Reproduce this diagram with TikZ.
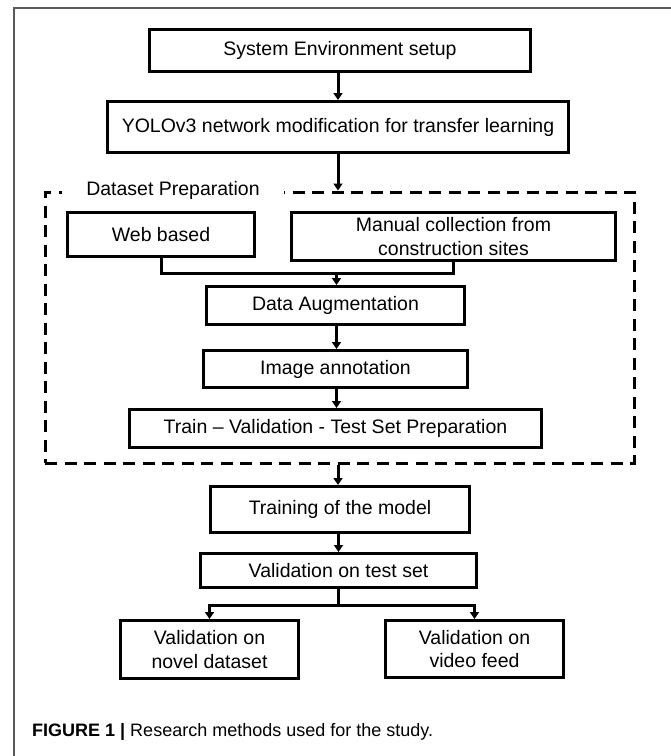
\documentclass[tikz,border=0pt]{standalone}
\usepackage{fontspec}
\setmainfont{Liberation Sans}
\usetikzlibrary{arrows.meta}
\begin{document}
\begin{tikzpicture}[x=1pt,y=-1pt,
  stepbox/.style={draw=black, line width=3pt, fill=white, inner sep=0pt, align=center,
    font=\fontsize{19.5}{23.4}\selectfont},
  dashbox/.style={draw=black, line width=3pt, dash pattern=on 12pt off 7.5pt, inner sep=0pt},
  conn/.style={draw=black, line width=3pt},
  arr/.style={conn, -{Triangle[length=7pt,width=9pt]}},
  frameline/.style={draw=black!65, line width=1.2pt}
]
\useasboundingbox (0,0) rectangle (671,756);
% outer frame (left and top only)
\draw[frameline] (14,756) -- (14,8) -- (671,8);

% dashed group
\node[dashbox, minimum width=589pt, minimum height=271pt] (dp) at (339.5,327.5) {};
\node[fill=white, inner xsep=24pt, inner ysep=2pt, font=\fontsize{19.5}{23.4}\selectfont] (dplabel) at (173,190) {Dataset Preparation};

% boxes
\node[stepbox, minimum width=381pt, minimum height=42pt] (sys) at (340,50.5) {System Environment setup};
\node[stepbox, minimum width=461pt, minimum height=51pt] (yolo) at (338,127) {YOLOv3 network modification for transfer learning};
\node[stepbox, minimum width=187pt, minimum height=44pt] (web) at (161,234.5) {Web based};
\node[stepbox, minimum width=324pt, minimum height=48pt] (man) at (453.5,236.5) {Manual collection from\\construction sites};
\node[stepbox, minimum width=258pt, minimum height=38pt] (aug) at (335.5,305.5) {Data Augmentation};
\node[stepbox, minimum width=264pt, minimum height=37pt] (ann) at (335.5,369) {Image annotation};
\node[stepbox, minimum width=412pt, minimum height=38pt] (tvt) at (335.5,428.5) {Train -- Validation - Test Set Preparation};
\node[stepbox, minimum width=259pt, minimum height=46pt] (train) at (340,509.5) {Training of the model};
\node[stepbox, minimum width=276pt, minimum height=34pt] (vts) at (338.5,570.5) {Validation on test set};
\node[stepbox, minimum width=178pt, minimum height=58pt] (nov) at (209.5,649.5) {Validation on\\novel dataset};
\node[stepbox, minimum width=178pt, minimum height=57pt] (vid) at (474.5,649) {Validation on\\video feed};

% connectors
\draw[arr] (sys.south -| 338,0) -- (yolo.north -| 338,0);
\draw[arr] (yolo.south -| 338,0) -- (dp.north -| 338,0);
\coordinate (join) at (336.5,273);
\draw[conn] (web.south) |- (join) -| (man.south);
\draw[arr] (join) -- (join |- aug.north);
\draw[arr] (aug.south -| 336.5,0) -- (ann.north -| 336.5,0);
\draw[arr] (ann.south -| 336.5,0) -- (tvt.north -| 336.5,0);
\draw[arr] (dp.south -| 338,0) -- (train.north -| 338,0);
\draw[arr] (train.south -| 338.5,0) -- (vts.north -| 338.5,0);
\coordinate (br) at (338.5,605);
\draw[conn] (vts.south) -- (br);
\draw[arr] (br) -| (nov.north);
\draw[arr] (br) -| (vid.north);

% caption
\node[anchor=west, inner sep=0pt, font=\fontsize{18}{21}\selectfont] (cap) at (32,732) {\textbf{FIGURE 1 |} Research methods used for the study.};
\end{tikzpicture}
\end{document}
